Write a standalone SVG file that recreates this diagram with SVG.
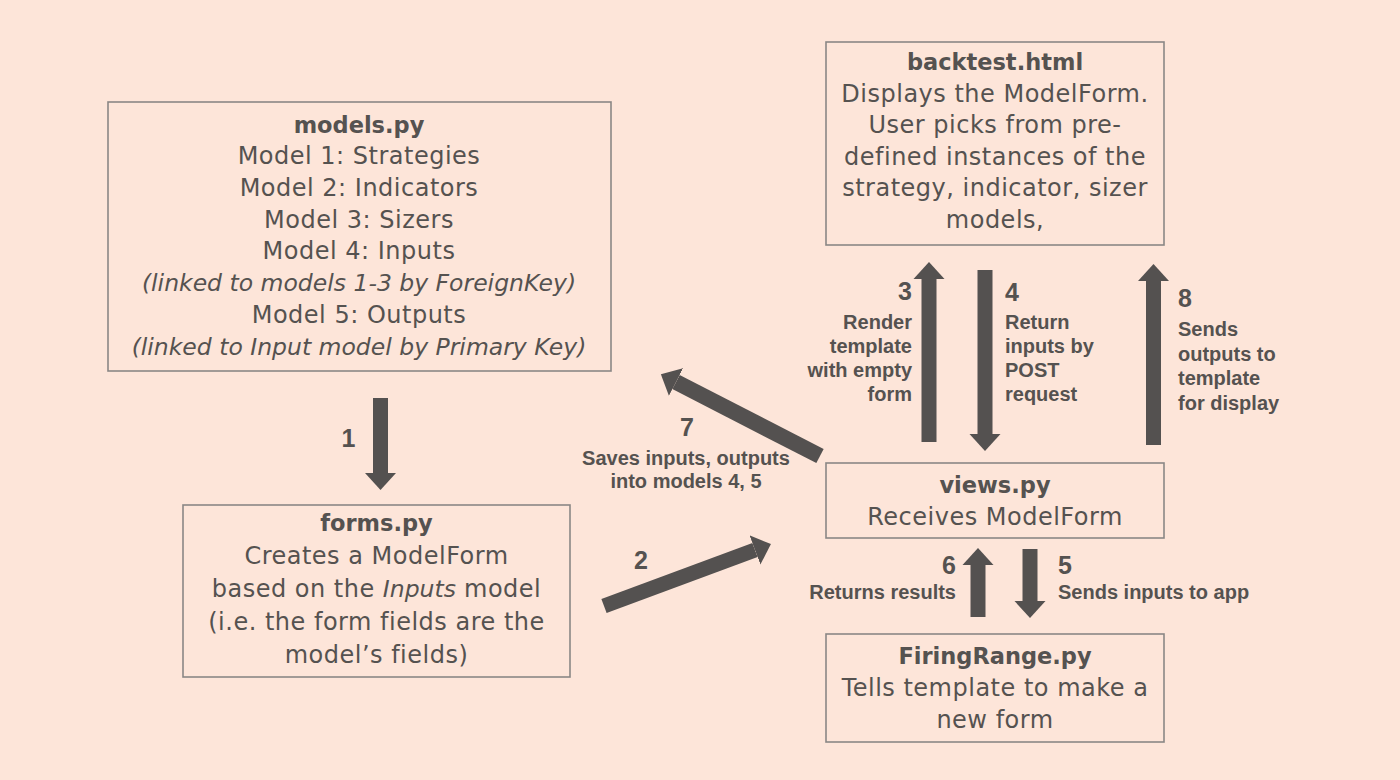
<svg xmlns="http://www.w3.org/2000/svg" width="1400" height="780" viewBox="0 0 1400 780">
<defs>
<style>
.box{fill:#fde5d9;stroke:#8a8785;stroke-width:1.6}
.t{font-family:"DejaVu Sans","Liberation Sans",sans-serif;font-size:24px;letter-spacing:0.5px;fill:#555250;text-anchor:middle}
.b{font-weight:bold;font-size:22.5px;letter-spacing:0}
.i{font-style:italic;font-size:23.5px;letter-spacing:0}
.lb{font-family:"Liberation Sans",Arial,sans-serif;font-weight:bold;font-size:20px;fill:#555250}
.num{font-family:"Liberation Sans",Arial,sans-serif;font-weight:bold;font-size:25px;fill:#555250}
.arr{stroke:#545150;stroke-width:15;fill:none;marker-end:url(#ah)}
</style>
<marker id="ah" markerUnits="userSpaceOnUse" markerWidth="18" markerHeight="32" viewBox="0 0 18 32" refX="0" refY="16" orient="auto">
<path d="M0,0.5 L17,16 L0,31.5 Z" fill="#545150"/>
</marker>
</defs>
<rect width="1400" height="780" fill="#fde5d9"/>

<g id="models">
<rect class="box" x="108" y="102" width="503" height="269"/>
<text class="t b" x="359" y="133">models.py</text>
<text class="t" x="359" y="164">Model 1: Strategies</text>
<text class="t" x="359" y="196">Model 2: Indicators</text>
<text class="t" x="359" y="228">Model 3: Sizers</text>
<text class="t" x="359" y="259">Model 4: Inputs</text>
<text class="t i" x="359" y="291">(linked to models 1-3 by ForeignKey)</text>
<text class="t" x="359" y="323">Model 5: Outputs</text>
<text class="t i" x="359" y="355">(linked to Input model by Primary Key)</text>
</g>

<g id="backtest">
<rect class="box" x="826" y="42" width="338" height="203"/>
<text class="t b" x="995" y="70">backtest.html</text>
<text class="t" x="995" y="101.5">Displays the ModelForm.</text>
<text class="t" x="995" y="133">User picks from pre-</text>
<text class="t" x="995" y="164.5">defined instances of the</text>
<text class="t" x="995" y="196">strategy, indicator, sizer</text>
<text class="t" x="995" y="227.5">models,</text>
</g>

<g id="forms">
<rect class="box" x="183" y="505" width="387" height="172"/>
<text class="t b" x="376.5" y="531">forms.py</text>
<text class="t" x="376.5" y="564">Creates a ModelForm</text>
<text class="t" x="376.5" y="597">based on the <tspan class="i">Inputs</tspan> model</text>
<text class="t" x="376.5" y="630">(i.e. the form fields are the</text>
<text class="t" x="376.5" y="663">model’s fields)</text>
</g>

<g id="views">
<rect class="box" x="826" y="463" width="338" height="75"/>
<text class="t b" x="995" y="493">views.py</text>
<text class="t" x="995" y="525">Receives ModelForm</text>
</g>

<g id="firingrange">
<rect class="box" x="826" y="634" width="338" height="108"/>
<text class="t b" x="995" y="664">FiringRange.py</text>
<text class="t" x="995" y="696">Tells template to make a</text>
<text class="t" x="995" y="728">new form</text>
</g>

<g id="connectors">
<line class="arr" x1="380.5" y1="398" x2="380.5" y2="473"/>
<line class="arr" x1="604" y1="606" x2="755" y2="550"/>
<line class="arr" x1="820" y1="456" x2="676" y2="382" style="stroke-width:16"/>
<line class="arr" x1="929" y1="442" x2="929" y2="279"/>
<line class="arr" x1="985" y1="270" x2="985" y2="434"/>
<line class="arr" x1="1153.5" y1="445" x2="1153.5" y2="281"/>
<line class="arr" x1="978" y1="617" x2="978" y2="565"/>
<line class="arr" x1="1030" y1="549" x2="1030" y2="601"/>
</g>

<g id="labels">
<text class="num" x="348.5" y="447" text-anchor="middle">1</text>
<text class="num" x="641" y="569" text-anchor="middle">2</text>
<text class="num" x="687" y="436" text-anchor="middle">7</text>
<text class="lb" x="686" y="465" text-anchor="middle">Saves inputs, outputs</text>
<text class="lb" x="686" y="488" text-anchor="middle">into models 4, 5</text>

<text class="num" x="912" y="300" text-anchor="end">3</text>
<text class="lb" x="912" y="329" text-anchor="end">Render</text>
<text class="lb" x="912" y="353" text-anchor="end">template</text>
<text class="lb" x="912" y="377" text-anchor="end">with empty</text>
<text class="lb" x="912" y="401" text-anchor="end">form</text>

<text class="num" x="1005" y="301">4</text>
<text class="lb" x="1005" y="329">Return</text>
<text class="lb" x="1005" y="353">inputs by</text>
<text class="lb" x="1005" y="377">POST</text>
<text class="lb" x="1005" y="401">request</text>

<text class="num" x="1178" y="307">8</text>
<text class="lb" x="1178" y="336">Sends</text>
<text class="lb" x="1178" y="361">outputs to</text>
<text class="lb" x="1178" y="385">template</text>
<text class="lb" x="1178" y="410">for display</text>

<text class="num" x="956" y="574" text-anchor="end">6</text>
<text class="lb" x="956" y="599" text-anchor="end">Returns results</text>
<text class="num" x="1058" y="574">5</text>
<text class="lb" x="1058" y="599">Sends inputs to app</text>
</g>
</svg>
